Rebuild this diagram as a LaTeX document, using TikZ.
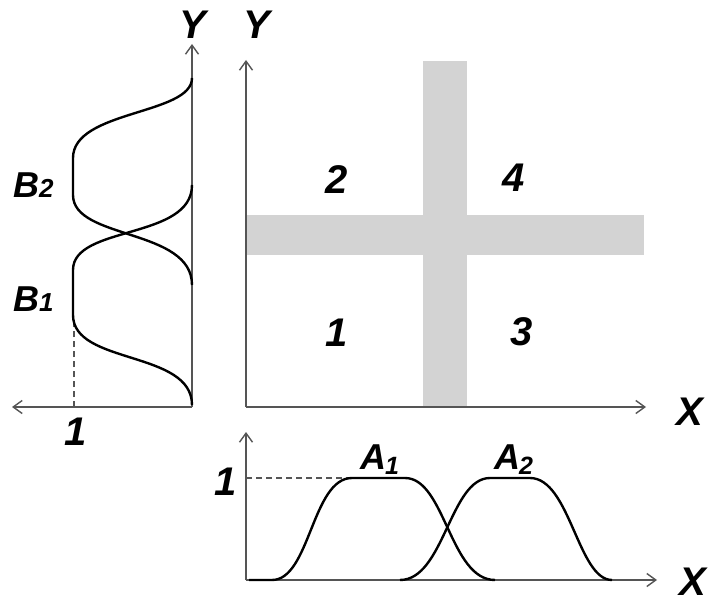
\documentclass[tikz,border=0pt]{standalone}
\usepackage{fontspec}
\setmainfont{Liberation Sans}
\usetikzlibrary{arrows.meta}
\definecolor{bandgray}{RGB}{211,211,211}
\definecolor{axisgray}{RGB}{85,85,85}
\begin{document}
\begin{tikzpicture}[x=1pt,y=-1pt,
  axis/.style={draw=axisgray,line width=1.6pt,-{Straight Barb[length=9pt,width=13pt,line width=1.4pt]}},
  curve/.style={draw=black,line width=2.4pt,line join=round},
  guide/.style={draw=axisgray,line width=1.6pt,dashed,dash pattern=on 6pt off 4pt},
  big/.style={font=\fontsize{40}{40}\selectfont\bfseries\itshape,inner sep=0pt},
  mid/.style={font=\fontsize{36}{36}\selectfont\bfseries\itshape,inner sep=0pt},
  band/.style={fill=bandgray,draw=none}]
\useasboundingbox (0,0) rectangle (714,604);
% gray cross
\fill[band] (423,61) rectangle (467,407);
\fill[band] (246,215) rectangle (644,255);
% left panel axes
\coordinate (LO) at (192,407);
\coordinate (LT) at (192,44);
\coordinate (LL) at (12,407);
\draw[axis] (LO) -- (LT);
\draw[axis] (LO) -- (LL);
% main panel axes
\coordinate (MO) at (246,407);
\coordinate (MT) at (246,60);
\coordinate (MR) at (646,407);
\draw[axis] (MO) -- (MT);
\draw[axis] (MO) -- (MR);
% bottom panel axes
\coordinate (BO) at (246,580);
\coordinate (BT) at (246,432);
\coordinate (BR) at (657,580);
\draw[axis] (BO) -- (BT);
\draw[axis] (BO) -- (BR);
% dashed guides
\coordinate (Ld0) at (74,407);
\coordinate (Ld1) at (74,318);
\draw[guide] (Ld0) -- (Ld1);
\coordinate (Bd0) at (246,478);
\coordinate (Bd1) at (350,478);
\draw[guide] (Bd0) -- (Bd1);
% B curves
\draw[curve] (192,78) .. controls (192,115) and (73,110) .. (73,158) -- (73,195)
  .. controls (73,240) and (192,228) .. (192,285);
\draw[curve] (192,185) .. controls (192,240) and (73,225) .. (73,270) -- (73,315)
  .. controls (73,365) and (192,350) .. (192,405);
% A curves
\draw[curve] (249,580) -- (272,580) .. controls (310,580) and (312,478) .. (352,478) -- (405,478)
  .. controls (445,478) and (450,580) .. (495,580);
\draw[curve] (400,580) .. controls (444,580) and (450,478) .. (490,478) -- (530,478)
  .. controls (570,478) and (578,580) .. (612,580);
% labels
\node[big] (yl) at (193,25) {Y};
\node[big] (ym) at (257,25) {Y};
\node[big] (xm) at (690,412) {X};
\node[big] (xb) at (693,582) {X};
\node[big] (r2) at (337,180) {2};
\node[big] (r4) at (514,178) {4};
\node[big] (r1) at (337,333) {1};
\node[big] (r3) at (522,332) {3};
\node[big] (one1) at (76,432) {1};
\node[big] (one2) at (226,482) {1};
\node[mid,anchor=base west] (b2) at (13,197) {B\raisebox{0pt}{\fontsize{26}{26}\selectfont 2}};
\node[mid,anchor=base west] (b1) at (13,311) {B\raisebox{0pt}{\fontsize{26}{26}\selectfont 1}};
\node[mid,anchor=base west] (a1) at (360,469) {A\kern-1pt\raisebox{-5pt}{\fontsize{25}{25}\selectfont 1}};
\node[mid,anchor=base west] (a2) at (494,469) {A\kern-1pt\raisebox{-5pt}{\fontsize{25}{25}\selectfont 2}};
\end{tikzpicture}
\end{document}
